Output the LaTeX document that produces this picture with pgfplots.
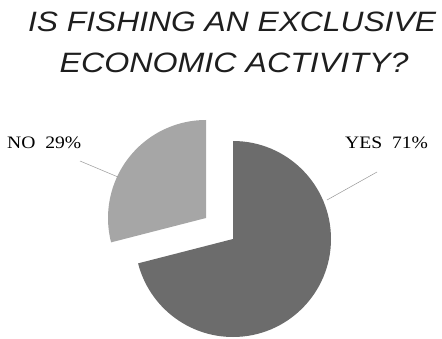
\documentclass[border=0pt]{standalone}
\usepackage{pgfplots}
\pgfplotsset{compat=1.18}
\usepackage{fontspec}
\setmainfont{Liberation Serif}
\newfontfamily\titlefont{Liberation Sans}
\definecolor{yescol}{RGB}{108,108,108}
\definecolor{nocol}{RGB}{166,166,166}
\definecolor{titlecol}{RGB}{30,30,30}
\definecolor{leadcol}{RGB}{150,150,150}
\begin{document}
\begin{tikzpicture}
\useasboundingbox (0,0) rectangle (442pt,338pt);
% pie data: YES 71, NO 29 (percent)
\def\yesval{71}
\def\noval{29}
\begin{axis}[
  at={(0,0)}, anchor=south west,
  x=1pt, y=1pt, scale only axis,
  xmin=0, xmax=442, ymin=0, ymax=338,
  hide axis, clip=false
]
\pgfmathsetmacro\yesdeg{\yesval*3.6}
\pgfmathsetmacro\nodeg{\noval*3.6}
\pgfmathsetmacro\yesend{90-\yesdeg}
% YES slice, clockwise from top
\fill[yescol] (axis cs:233,99) -- ++(90:98pt) arc[start angle=90, end angle=\yesend, radius=98pt] -- cycle;
% NO slice, exploded
\fill[nocol] (axis cs:206,120) -- ++(90:98pt) arc[start angle=90, end angle=90+\nodeg, radius=98pt] -- cycle;
% leader lines
\draw[leadcol, line width=0.5pt] (axis cs:80,177) -- (axis cs:118,161);
\draw[leadcol, line width=0.5pt] (axis cs:377,166) -- (axis cs:327,138);
% labels
\node[anchor=west, inner sep=0pt, font=\fontsize{17.5}{20}\selectfont] at (axis cs:7,195) {\scalebox{1.12}[1]{NO\ \ \noval\%}};
\node[anchor=west, inner sep=0pt, font=\fontsize{17.5}{20}\selectfont] at (axis cs:345,195) {\scalebox{1.12}[1]{YES\ \ \yesval\%}};
% title
\node[inner sep=0pt, text=titlecol, font=\titlefont\itshape\fontsize{28}{34}\selectfont] at (axis cs:232,316) {\scalebox{1.135}[1]{IS FISHING AN EXCLUSIVE}};
\node[inner sep=0pt, text=titlecol, font=\titlefont\itshape\fontsize{28}{34}\selectfont] at (axis cs:234,275) {\scalebox{1.15}[1]{ECONOMIC ACTIVITY?}};
\end{axis}
\end{tikzpicture}
\end{document}
